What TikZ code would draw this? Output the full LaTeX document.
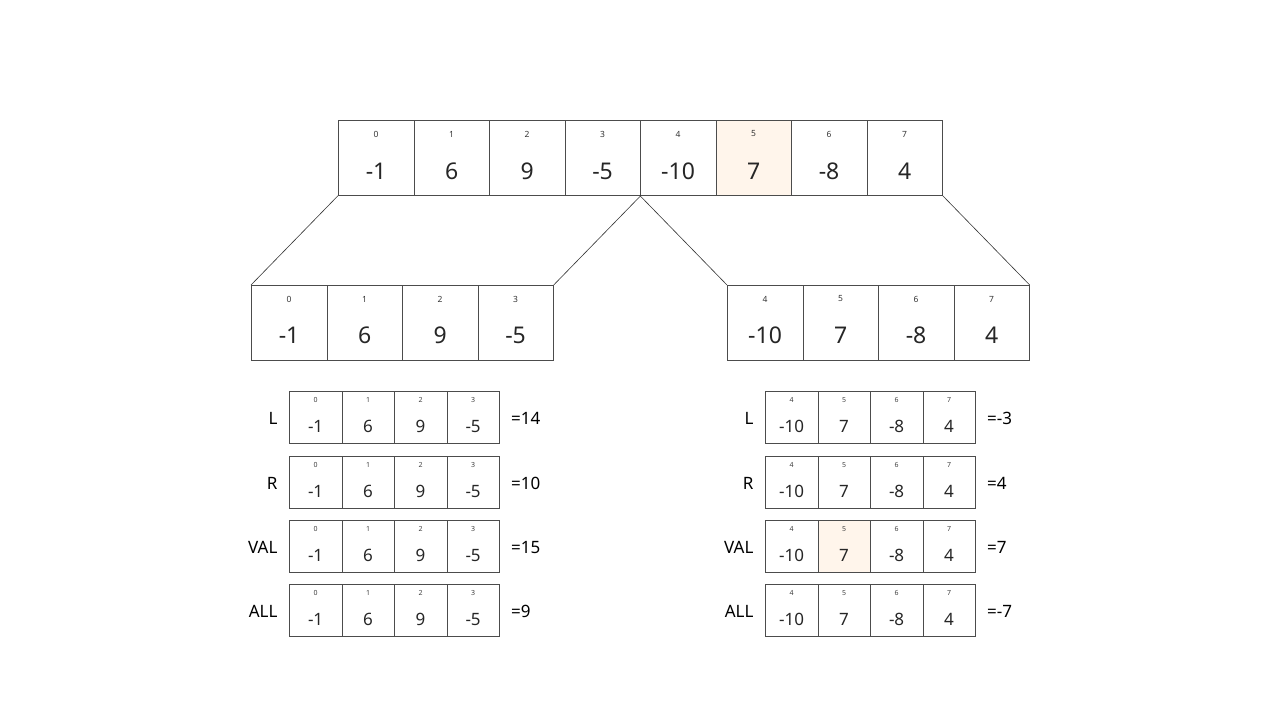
\documentclass[tikz,border=0pt]{standalone}
\usepackage{fontspec}
\setmainfont{Noto Sans}
\begin{document}
\begin{tikzpicture}[x=1pt,y=-1pt,
  cellbox/.style={draw=black!70,line width=0.7pt,minimum width=75.5pt,minimum height=75pt,inner sep=0pt,anchor=north west},
  smallbox/.style={draw=black!70,line width=0.7pt,minimum width=52.5pt,minimum height=52pt,inner sep=0pt,anchor=north west},
  hl/.style={fill=orange!8},
  bigval/.style={font=\fontsize{23}{23}\selectfont,text=black!85},
  bigidx/.style={font=\fontsize{8.5}{8.5}\selectfont,text=black!80},
  smval/.style={font=\fontsize{17}{17}\selectfont,text=black!85},
  smidx/.style={font=\fontsize{7}{7}\selectfont,text=black!75},
  rowlab/.style={font=\fontsize{17}{17}\selectfont,anchor=east},
  reslab/.style={font=\fontsize{17}{17}\selectfont,anchor=west},
  conn/.style={draw=black!80,line width=0.6pt}
]
\useasboundingbox (0,0) rectangle (1280,720);
% top array
\foreach \v [count=\i from 0] in {-1,6,9,-5,-10,7,-8,4}{
  \pgfmathsetmacro{\xx}{338+75.5*\i}
  \ifnum\i=5
    \node[cellbox,hl] (t\i) at (\xx,120) {};
  \else
    \node[cellbox] (t\i) at (\xx,120) {};
  \fi
  \node[bigidx] (ti\i) at ([yshift=-14pt]t\i.north) {\i};
  \node[bigval] (tv\i) at ([yshift=-13.5pt]t\i.center) {\v};
}
% second level
\foreach \v [count=\i from 0] in {-1,6,9,-5}{
  \pgfmathsetmacro{\xx}{251+75.5*\i}
  \node[cellbox] (l\i) at (\xx,285) {};
  \node[bigidx] (li\i) at ([yshift=-14pt]l\i.north) {\i};
  \node[bigval] (lv\i) at ([yshift=-12.5pt]l\i.center) {\v};
}
\foreach \v [count=\i from 4] in {-10,7,-8,4}{
  \pgfmathsetmacro{\xx}{727+75.5*(\i-4)}
  \node[cellbox] (r\i) at (\xx,285) {};
  \node[bigidx] (ri\i) at ([yshift=-14pt]r\i.north) {\i};
  \node[bigval] (rv\i) at ([yshift=-12.5pt]r\i.center) {\v};
}
\draw[conn] (t0.south west) -- (l0.north west);
\draw[conn] (t3.south east) -- (l3.north east);
\draw[conn] (t4.south west) -- (r4.north west);
\draw[conn] (t7.south east) -- (r7.north east);
% small arrays
\foreach \lab/\yy/\lres/\rres/\rk/\hc in {L/391/14/-3/a/9, R/456/10/4/b/9, VAL/520/15/7/c/5, ALL/584/9/-7/d/9}{
  \foreach \v [count=\i from 0] in {-1,6,9,-5}{
    \pgfmathsetmacro{\xx}{289+52.5*\i}
    \node[smallbox] (s\rk l\i) at (\xx,\yy) {};
    \node[smidx] (s\rk li\i) at ([yshift=-9pt]s\rk l\i.north) {\i};
    \node[smval] (s\rk lv\i) at ([yshift=-9pt]s\rk l\i.center) {\v};
  }
  \node[rowlab] (s\rk lab) at ([xshift=-8pt,yshift=-1pt]s\rk l0.west) {\lab};
  \node[reslab] (s\rk res) at ([xshift=8pt,yshift=-1pt]s\rk l3.east) {=\lres};
  \foreach \v [count=\i from 4] in {-10,7,-8,4}{
    \pgfmathsetmacro{\xx}{765+52.5*(\i-4)}
    \ifnum\i=\hc
      \node[smallbox,hl] (s\rk r\i) at (\xx,\yy) {};
    \else
      \node[smallbox] (s\rk r\i) at (\xx,\yy) {};
    \fi
    \node[smidx] (s\rk ri\i) at ([yshift=-9pt]s\rk r\i.north) {\i};
    \node[smval] (s\rk rv\i) at ([yshift=-9pt]s\rk r\i.center) {\v};
  }
  \node[rowlab] (s\rk rlab) at ([xshift=-8pt,yshift=-1pt]s\rk r4.west) {\lab};
  \node[reslab] (s\rk rres) at ([xshift=8pt,yshift=-1pt]s\rk r7.east) {=\rres};
}
\end{tikzpicture}
\end{document}
